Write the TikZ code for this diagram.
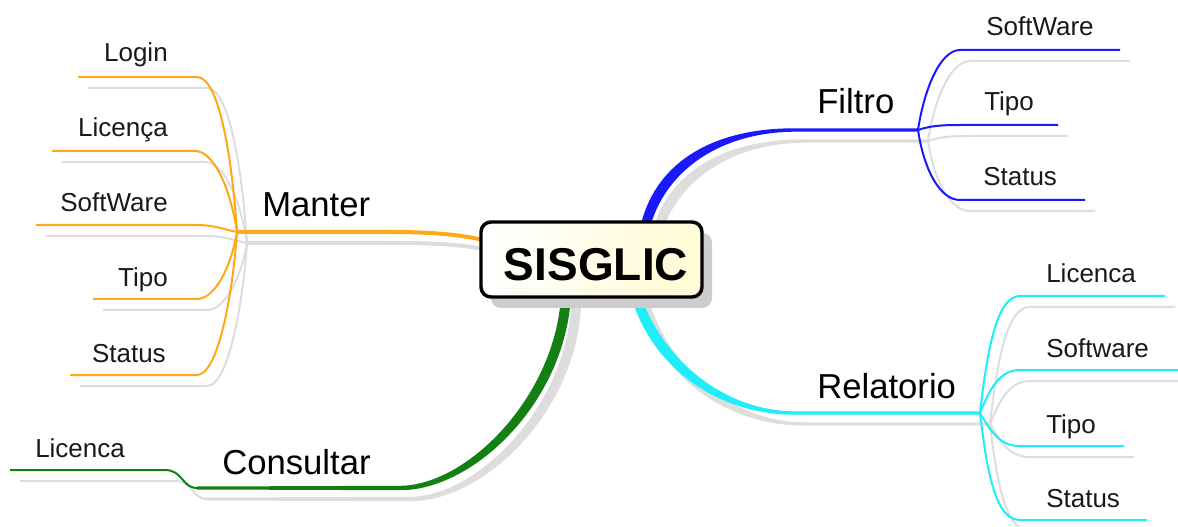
\documentclass[tikz,border=0pt]{standalone}
\usepackage{fontspec}
\setmainfont{Liberation Sans}
\definecolor{mmorange}{RGB}{255,168,22}
\definecolor{mmblue}{RGB}{25,25,250}
\definecolor{mmcyan}{RGB}{30,238,250}
\definecolor{mmgreen}{RGB}{20,128,20}
\definecolor{shgrey}{RGB}{221,221,221}
\definecolor{boxshadow}{RGB}{205,205,205}
\definecolor{boxyellow}{RGB}{255,251,212}
\newcommand\mmconnectors{%
  % Manter (orange)
  \draw[mainbr=mmorange] (mj) -- (390,232) .. controls (435,232) and (462,235) .. (mroot);
  \draw[br=mmorange] (m1t) -- (m1c) .. controls +(22,0) and +(-5,-75) .. (mj);
  \draw[br=mmorange] (m2t) -- (m2c) .. controls +(20,0) and +(-6,-40) .. (mj);
  \draw[br=mmorange] (m3t) -- (m3c) .. controls +(20,0) and +(-15,-3) .. (mj);
  \draw[br=mmorange] (m4t) -- (m4c) .. controls +(18,0) and +(-6,35) .. (mj);
  \draw[br=mmorange] (m5t) -- (m5c) .. controls +(20,0) and +(-5,70) .. (mj);
  % Filtro (blue)
  \fill[taper=mmblue] (641,224) .. controls (657,160) and (716,128) .. (795,128.3) -- (918,128.5)
     -- (918,131.5) -- (795,131.7) .. controls (723,132) and (668,168) .. (651,224) -- cycle;
  \draw[br=mmblue] (fj) .. controls +(6,-40) and +(-20,0) .. (f1c) -- (f1t);
  \draw[br=mmblue] (fj) .. controls +(12,-4) and +(-20,0) .. (f2c) -- (f2t);
  \draw[br=mmblue] (fj) .. controls +(6,40) and +(-20,0) .. (f3c) -- (f3t);
  % Relatorio (cyan)
  \fill[taper=mmcyan] (631,296) .. controls (651,366) and (716,414.7) .. (795,414.7) -- (980,414.5)
     -- (980,411.5) -- (795,411.3) .. controls (723,411.3) and (662,358) .. (641,296) -- cycle;
  \draw[br=mmcyan] (rj) .. controls +(8,-70) and +(-22,0) .. (r1c) -- (r1t);
  \draw[br=mmcyan] (rj) .. controls +(10,-25) and +(-20,0) .. (r2c) -- (r2t);
  \draw[br=mmcyan] (rj) .. controls +(12,20) and +(-20,0) .. (r3c) -- (r3t);
  \draw[br=mmcyan] (rj) .. controls +(8,70) and +(-22,0) .. (r4c) -- (r4t);
  % Consultar (green)
  \fill[taper=mmgreen] (561,296) .. controls (555,397) and (467,485.5) .. (400,485.8) -- (197,486.5)
     -- (197,489.5) -- (400,490.2) .. controls (473,490.5) and (565,403) .. (571,296) -- cycle;
  \draw[br=mmgreen] (cj) .. controls +(-15,0) and +(18,0) .. (c1c) -- (c1t);
}
\begin{document}
\begin{tikzpicture}[x=0.75pt,y=-0.75pt,
  leaf/.style={font=\fontsize{19.5}{22}\selectfont, inner sep=0pt, text=black!90},
  mainlbl/.style={font=\fontsize{26}{30}\selectfont, inner sep=0pt, text=black},
  br/.style={draw=#1, line width=1.5pt},
  mainbr/.style={draw=#1, line width=3pt},
  taper/.style={fill=#1},
  rootbox/.style={draw=black, line width=2.6pt, rounded corners=7.5pt,
    left color=white, right color=boxyellow, minimum width=165.75pt, minimum height=56.25pt, inner sep=0pt}]
\useasboundingbox (0,0) rectangle (1178,527);
\fill[white] (0,0) rectangle (1178,527);

% junctions and line ends
\coordinate (mj) at (237,232);
\coordinate (mroot) at (483,240);
\coordinate (m1c) at (197,77);  \coordinate (m1t) at (78,77);
\coordinate (m2c) at (195,151); \coordinate (m2t) at (52,151);
\coordinate (m3c) at (195,225); \coordinate (m3t) at (36,225);
\coordinate (m4c) at (197,299); \coordinate (m4t) at (93,299);
\coordinate (m5c) at (197,375); \coordinate (m5t) at (70,375);
\coordinate (fj) at (918,130);
\coordinate (f1c) at (960,50);  \coordinate (f1t) at (1120,50);
\coordinate (f2c) at (960,125); \coordinate (f2t) at (1058,125);
\coordinate (f3c) at (960,200); \coordinate (f3t) at (1085,200);
\coordinate (rj) at (980,413);
\coordinate (r1c) at (1020,296); \coordinate (r1t) at (1165,296);
\coordinate (r2c) at (1020,370); \coordinate (r2t) at (1178,370);
\coordinate (r3c) at (1020,446); \coordinate (r3t) at (1124,446);
\coordinate (r4c) at (1020,520); \coordinate (r4t) at (1147,520);
\coordinate (cj) at (197,488);
\coordinate (c1c) at (165,470); \coordinate (c1t) at (10,470);

% shadows
\begin{scope}[transform canvas={shift={(10,11)}},
  br/.style={draw=shgrey, line width=1.5pt},
  mainbr/.style={draw=shgrey, line width=3pt},
  taper/.style={fill=shgrey}]
  \mmconnectors
\end{scope}
% coloured connectors
\mmconnectors

% central topic
\fill[boxshadow, rounded corners=7.5pt] (491,233) rectangle (712,308);
\node[rootbox] (root) at (591.5,259.5) {};
\node[inner sep=0pt, anchor=base, font=\fontsize{34.5}{40}\selectfont\bfseries] (roottxt) at (596,281) {SISGLIC};

% labels
\node[mainlbl, anchor=base west] (manter) at (262,217) {Manter};
\node[leaf, anchor=base east] (login) at (168,62) {Login};
\node[leaf, anchor=base east] (licm) at (168,137) {Licença};
\node[leaf, anchor=base east] (swm) at (168,212) {SoftWare};
\node[leaf, anchor=base east] (tipom) at (168,287) {Tipo};
\node[leaf, anchor=base east] (statm) at (166,362) {Status};

\node[mainlbl, anchor=base west] (filtro) at (817,114) {Filtro};
\node[leaf, anchor=base west] (swf) at (986,36) {SoftWare};
\node[leaf, anchor=base west] (tipof) at (984,111) {Tipo};
\node[leaf, anchor=base west] (statf) at (983,186) {Status};

\node[mainlbl, anchor=base west] (rel) at (817,398) {Relatorio};
\node[leaf, anchor=base west] (licr) at (1046,283) {Licenca};
\node[leaf, anchor=base west] (swr) at (1046,358) {Software};
\node[leaf, anchor=base west] (tipor) at (1046,433) {Tipo};
\node[leaf, anchor=base west] (statr) at (1046,507) {Status};

\node[mainlbl, anchor=base west] (cons) at (222,474) {Consultar};
\node[leaf, anchor=base west] (licc) at (35,457) {Licenca};
\end{tikzpicture}
\end{document}
